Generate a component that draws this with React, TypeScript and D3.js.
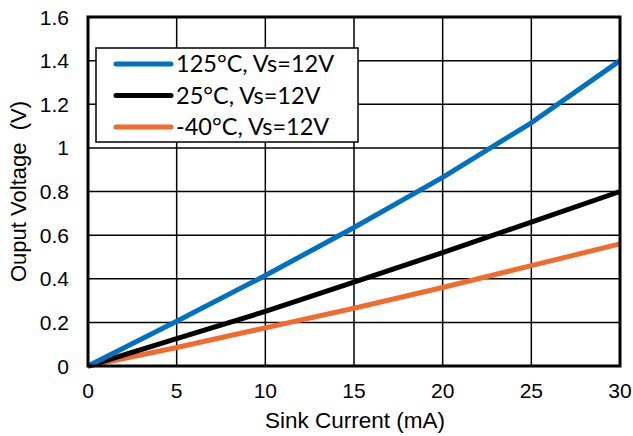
import React from 'react';
import * as d3 from 'd3';

const currents = [0, 5, 10, 15, 20, 25, 30];
const v125 = [0, 0.205, 0.415, 0.635, 0.865, 1.115, 1.4];
const v25 = [0, 0.125, 0.25, 0.385, 0.52, 0.66, 0.8];
const vm40 = [0, 0.085, 0.175, 0.265, 0.36, 0.46, 0.56];
const seriesNames = ['125°C, Vs=12V', '25°C, Vs=12V', '-40°C, Vs=12V'];
const seriesColors = ['#0070C0', '#000000', '#F26B2E'];
const xTicks = [0, 5, 10, 15, 20, 25, 30];
const yTicks = [0, 0.2, 0.4, 0.6, 0.8, 1, 1.2, 1.4, 1.6];

const W = 633;
const H = 436;
const plot = {left: 88, right: 620, top: 17, bottom: 366};

const App = () => {
  const x = d3.scaleLinear().domain([0, 30]).range([plot.left, plot.right]);
  const y = d3.scaleLinear().domain([0, 1.6]).range([plot.bottom, plot.top]);

  const allSeries = [v125, v25, vm40];
  const lineGen = d3.line<number>()
    .x((_, i) => x(currents[i]))
    .y(v => y(v));

  const tickFont = 'Liberation Sans, Arial, sans-serif';

  return (
    <div style={{position: 'absolute', left: 0, top: 0}}>
      <svg width={W} height={H} style={{display: 'block', background: '#fff'}}>
        {/* grid */}
        {xTicks.slice(1, -1).map(t => (
          <line key={'gx' + t} x1={x(t)} x2={x(t)} y1={plot.top} y2={plot.bottom}
            stroke="#000" strokeWidth={1.5}/>
        ))}
        {yTicks.slice(1, -1).map(t => (
          <line key={'gy' + t} x1={plot.left} x2={plot.right} y1={y(t)} y2={y(t)}
            stroke="#000" strokeWidth={1.5}/>
        ))}

        {/* series, drawn bottom to top */}
        {allSeries.slice().reverse().map((s, ri) => {
          const i = allSeries.length - 1 - ri;
          return (
            <path key={'s' + i} d={lineGen(s) || ''} fill="none"
              stroke={seriesColors[i]} strokeWidth={5} strokeLinejoin="round"/>
          );
        })}

        {/* frame */}
        <rect x={plot.left} y={plot.top} width={plot.right - plot.left}
          height={plot.bottom - plot.top} fill="none" stroke="#000" strokeWidth={3}/>

        {/* tick labels */}
        {yTicks.map(t => (
          <text key={'ty' + t} x={69} y={y(t)} dy="0.36em" textAnchor="end"
            fontFamily={tickFont} fontSize={21} fill="#000">{d3.format('~g')(t)}</text>
        ))}
        {xTicks.map(t => (
          <text key={'tx' + t} x={x(t)} y={398} textAnchor="middle"
            fontFamily={tickFont} fontSize={21} fill="#000">{t}</text>
        ))}

        {/* axis titles */}
        <text x={355} y={428} textAnchor="middle" fontFamily={tickFont} fontSize={22.5}>
          Sink Current (mA)
        </text>
        <text transform={`translate(26,${(plot.top + plot.bottom) / 2}) rotate(-90)`}
          textAnchor="middle" fontFamily={tickFont} fontSize={22} xmlSpace="preserve">
          {'Ouput Voltage  (V)'}
        </text>

        {/* legend */}
        <rect x={96} y={48} width={262} height={94} fill="#fff" stroke="#000" strokeWidth={1.5}/>
        {seriesNames.map((n, i) => {
          const cy = 64 + i * 31.5;
          return (
            <g key={'lg' + i}>
              <line x1={116} x2={171} y1={cy} y2={cy} stroke={seriesColors[i]}
                strokeWidth={5} strokeLinecap="round"/>
              <text x={176} y={cy} dy="0.35em" fontFamily="Lato, 'Open Sans', sans-serif"
                fontSize={23.5} fill="#000">{n}</text>
            </g>
          );
        })}
      </svg>
    </div>
  );
};

export default App;
